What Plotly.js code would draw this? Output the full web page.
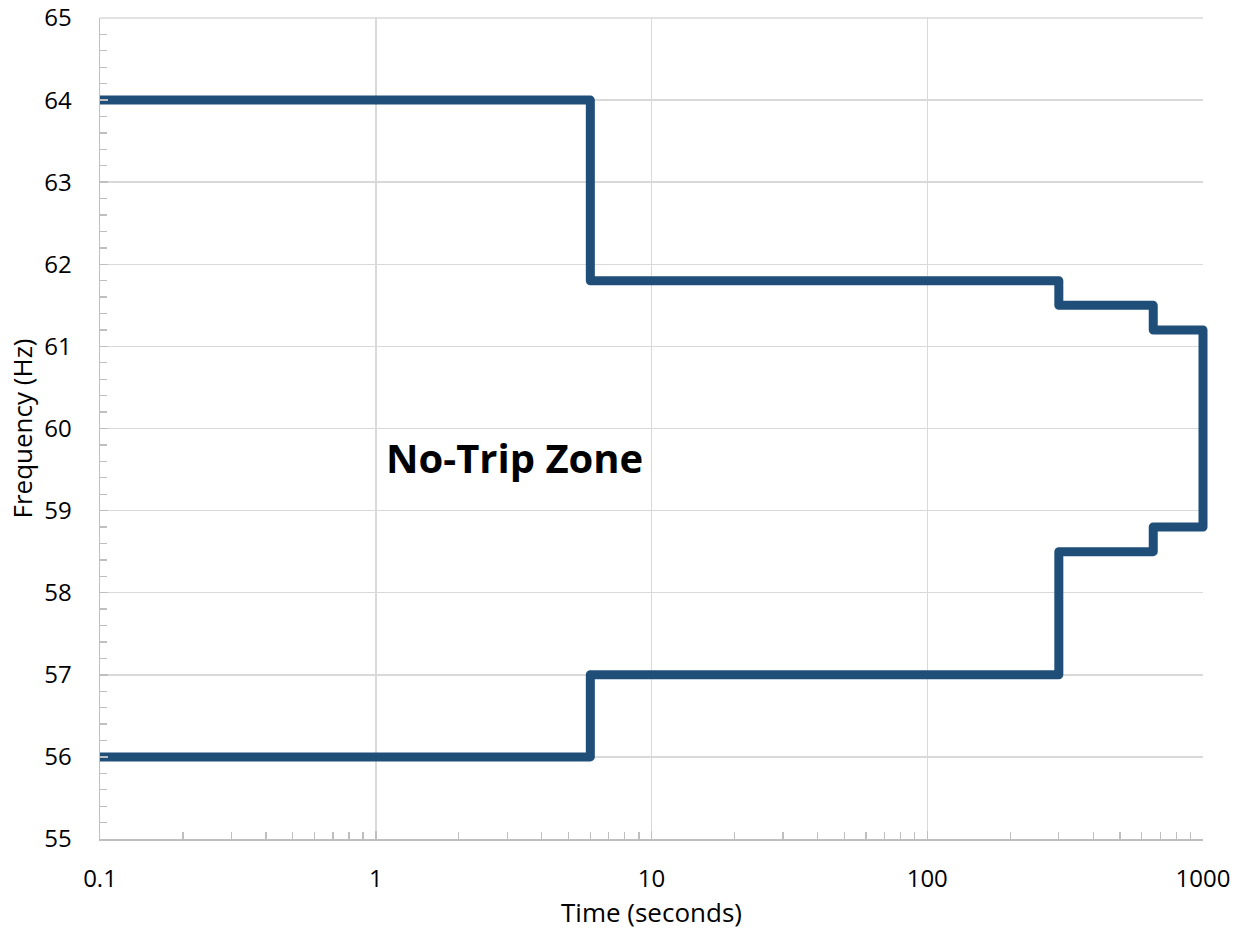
<!DOCTYPE html>
<html>
<head>
<meta charset="utf-8">
<script src="https://cdn.plot.ly/plotly-3.0.1.min.js"></script>
<style>
html,body{margin:0;padding:0;background:#fff;}
#chart{width:1247px;height:942px;}
.scatterlayer .js-line{stroke-linejoin:round;}
</style>
</head>
<body>
<div id="chart"></div>
<script>
// Boundary of the no-trip zone (time in seconds, frequency in Hz)
const timeSeconds = [0.1, 6, 6, 300, 300, 660, 660, 1000, 1000, 660, 660, 300, 300, 6, 6, 0.1];
const frequencyHz = [64, 64, 61.8, 61.8, 61.5, 61.5, 61.2, 61.2, 58.8, 58.8, 58.5, 58.5, 57, 57, 56, 56];
const xTickVals = [0.1, 1, 10, 100, 1000];
const xTickText = ['0.1', '1', '10', '100', '1000'];
const yTickVals = [55, 56, 57, 58, 59, 60, 61, 62, 63, 64, 65];
const zoneLabel = 'No-Trip Zone';

const font = 'Open Sans, Noto Sans, sans-serif';

const trace = {
  x: timeSeconds,
  y: frequencyHz,
  type: 'scatter',
  mode: 'lines',
  line: {color: '#1f4e79', width: 9},
  cliponaxis: false,
  hoverinfo: 'skip'
};

const common = {
  ticks: 'inside',
  ticklen: 8,
  tickcolor: '#bfbfbf',
  tickwidth: 1.5,
  showline: true,
  linecolor: '#bfbfbf',
  linewidth: 1.5,
  showgrid: true,
  gridcolor: '#d9d9d9',
  gridwidth: 1.5,
  zeroline: false,
  ticklabeloverflow: 'allow',
  tickfont: {family: font, size: 24, color: '#000'}
};

const layout = {
  width: 1247,
  height: 942,
  margin: {l: 100, r: 44, t: 18, b: 103},
  paper_bgcolor: '#ffffff',
  plot_bgcolor: '#ffffff',
  showlegend: false,
  font: {family: font, size: 24, color: '#000'},
  xaxis: Object.assign({}, common, {
    type: 'log',
    range: [-1, 3],
    tickmode: 'array',
    tickvals: xTickVals,
    ticktext: xTickText,
    ticklabelstandoff: 18,
    minor: {ticks: 'inside', ticklen: 7, tickcolor: '#bfbfbf', tickwidth: 1.3, dtick: 'D1', showgrid: false},
    title: {text: 'Time (seconds)', font: {family: font, size: 26, color: '#000'}, standoff: 10}
  }),
  yaxis: Object.assign({}, common, {
    range: [55, 65],
    tickmode: 'array',
    tickvals: yTickVals,
    ticklabelstandoff: 22,
    minor: {ticks: 'inside', ticklen: 7, tickcolor: '#bfbfbf', tickwidth: 1.3, dtick: 0.2, tick0: 55, showgrid: false},
    title: {text: 'Frequency (Hz)', font: {family: font, size: 26, color: '#000'}, standoff: 4}
  }),
  shapes: [{
    type: 'line', xref: 'paper', yref: 'paper', x0: 0, x1: 1, y0: 1, y1: 1,
    line: {color: '#d9d9d9', width: 1.5}, layer: 'below'
  }],
  annotations: [{
    xref: 'paper', yref: 'paper',
    x: 0.376, y: 0.465,
    text: '<b>' + zoneLabel + '</b>',
    showarrow: false,
    font: {family: font, size: 40, color: '#000'},
    xanchor: 'center', yanchor: 'middle'
  }]
};

function unclip(gd) {
  const lines = gd.querySelectorAll('.scatterlayer .js-line');
  lines.forEach(function (ln) {
    let el = ln;
    while (el && el !== gd) {
      if (el.removeAttribute) {
        el.removeAttribute('clip-path');
        if (el.style) el.style.clipPath = 'none';
      }
      el = el.parentNode;
    }
  });
}

Plotly.newPlot('chart', [trace], layout, {displayModeBar: false, staticPlot: true}).then(function (gd) {
  unclip(gd);
  setTimeout(function () { unclip(gd); }, 50);
});
</script>
</body>
</html>
